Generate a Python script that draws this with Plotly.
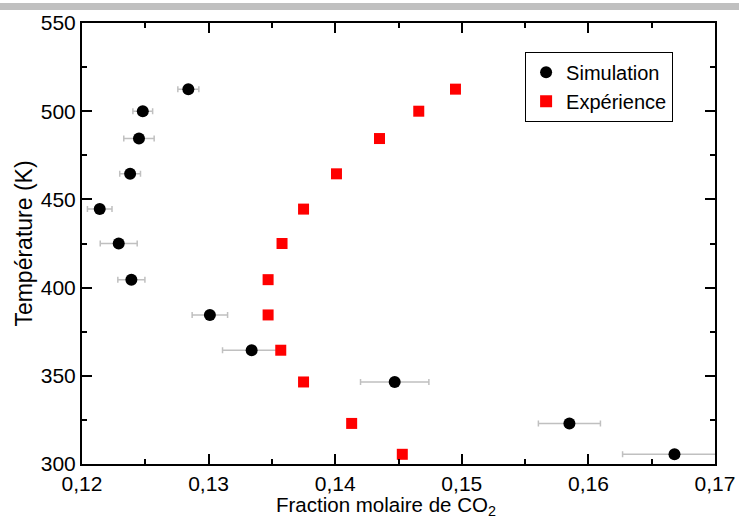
import plotly.graph_objects as go

temperature = [305.5, 323, 346.5, 364.5, 384.5, 404.5, 425, 444.5, 464.5, 484.5, 500, 512.5]
sim_fraction = [0.1668, 0.1585, 0.1447, 0.1334, 0.1301, 0.1239, 0.1229, 0.1214, 0.1238, 0.1245, 0.1248, 0.1284]
sim_error = [0.0041, 0.00245, 0.0027, 0.0023, 0.0014, 0.00107, 0.00146, 0.00097, 0.00082, 0.0012, 0.00078, 0.00083]
exp_fraction = [0.1453, 0.1413, 0.1375, 0.1357, 0.1347, 0.1347, 0.1358, 0.1375, 0.1401, 0.1435, 0.1466, 0.1495]

x_ticks = [0.12, 0.13, 0.14, 0.15, 0.16, 0.17]
y_ticks = [300, 350, 400, 450, 500, 550]

x_title = "Fraction molaire de CO<sub>2</sub>"
y_title = "Température (K)"

font = "Liberation Sans, Arial, sans-serif"

fig = go.Figure()
fig.add_trace(go.Scatter(
    x=sim_fraction, y=temperature, mode="markers", name="Simulation",
    marker=dict(symbol="circle", size=12, color="black"),
    error_x=dict(type="data", array=sim_error, visible=True, color="#c0c0c0",
                 thickness=1.5, width=3),
))
fig.add_trace(go.Scatter(
    x=exp_fraction, y=temperature, mode="markers", name="Expérience",
    marker=dict(symbol="square", size=11, color="#ff0000"),
))

axis_common = dict(
    showline=True, linecolor="black", linewidth=2, mirror="allticks",
    ticks="inside", ticklen=10, tickwidth=1.5, tickcolor="black",
    showgrid=False, zeroline=False, automargin=False,
    tickfont=dict(family=font, size=21, color="black"),
)

fig.update_xaxes(
    range=[0.12, 0.17], tickvals=x_ticks, tickformat=".2f",
    minor=dict(ticks="inside", ticklen=5, tickwidth=1.5, tickcolor="black", dtick=0.005, tick0=0.12),
    **axis_common,
)
fig.update_yaxes(
    range=[300, 550], tickvals=y_ticks,
    minor=dict(ticks="inside", ticklen=5, tickwidth=1.5, tickcolor="black", dtick=25, tick0=300),
    title=dict(text=y_title, font=dict(family=font, size=23, color="black"), standoff=2),
    **axis_common,
)

fig.add_annotation(text=x_title, xref="paper", yref="paper", x=0.481, y=-0.095,
                   xanchor="center", yanchor="middle", showarrow=False,
                   font=dict(family=font, size=20.5, color="black"))

fig.add_shape(type="rect", xref="paper", yref="paper", x0=-0.2, x1=1.1, y0=1.0 + 13/441, y1=1.0 + 20/441,
              fillcolor="#c0c0c0", line=dict(width=0), layer="above")

fig.update_layout(
    width=739, height=523,
    margin=dict(l=82, r=24, t=23, b=59),
    paper_bgcolor="white", plot_bgcolor="white",
    separators=", ",
    font=dict(family=font, size=21, color="black"),
    showlegend=True,
    legend=dict(x=0.70, y=0.935, xanchor="left", yanchor="top",
                bordercolor="black", borderwidth=1, bgcolor="white",
                font=dict(family=font, size=20, color="black"),
                tracegroupgap=0, itemsizing="constant"),
)

fig.write_html("out.html")
